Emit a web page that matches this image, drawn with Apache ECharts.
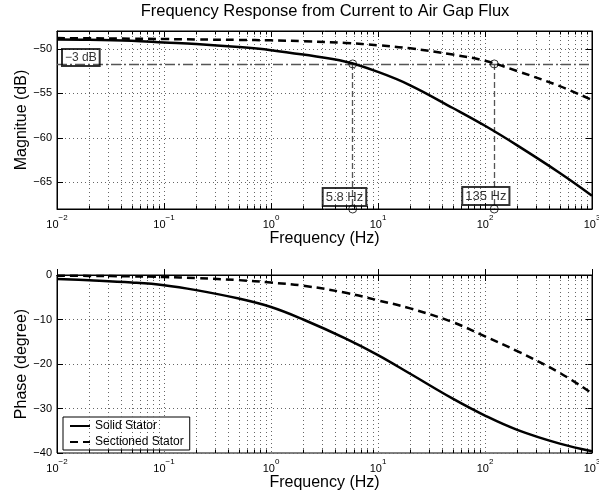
<!DOCTYPE html>
<html><head><meta charset="utf-8">
<script src="https://cdn.jsdelivr.net/npm/echarts@6/dist/echarts.min.js"></script>
<style>html,body{margin:0;padding:0;background:#fff}#c{width:599px;height:496px}</style>
</head><body><div id="c"></div>
<script>
// ---- data ----
const freqs = [0.01, 0.02, 0.05, 0.1, 0.2, 0.5, 1, 2, 5, 10, 20, 50, 100, 200, 500, 1000];
const magSolid = [-48.95, -48.98, -49.1, -49.28, -49.45, -49.8, -50.15, -50.65, -51.45, -52.6, -54.1, -56.65, -58.65, -60.85, -63.95, -66.5];
const magSectioned = [-48.8, -48.82, -48.86, -48.9, -48.95, -49.0, -49.05, -49.15, -49.35, -49.6, -49.95, -50.65, -51.35, -52.5, -54.2, -55.75];
const phaseSolid = [-0.9, -1.2, -1.7, -2.3, -3.4, -5.3, -7.2, -10.0, -14.3, -18.0, -22.2, -27.8, -31.6, -34.8, -37.9, -39.6];
const phaseSectioned = [-0.15, -0.2, -0.3, -0.45, -0.7, -1.15, -1.7, -2.4, -4.0, -5.7, -7.5, -10.6, -13.8, -17.1, -22.0, -26.6];
const seriesNames = ['Solid Stator', 'Sectioned Stator'];
const freqRange = [0.01, 1000];
const magRange = [-68, -48];
const phaseRange = [-40, 0];
const cutoffDb = -51.7;
const cutoffFreqs = [5.8, 122];
const cutoffLabels = ['5.8 Hz', '135 Hz'];
const dbLabel = '\u22123 dB';
const titleText = 'Frequency Response from Current to Air Gap Flux';
const xTitle = 'Frequency (Hz)';
const yTitles = ['Magnitue (dB)', 'Phase (degree)'];

// ---- helpers ----
const FONT = '"Liberation Sans", Arial, Helvetica, sans-serif';
const PLOT_H = 178;
const GRID_STYLE = {color: '#666', type: [1, 3], width: 1};
const minorFreqs = [];
for (let k = -2; k < 3; k++) for (let m = 2; m < 10; m++) minorFreqs.push(+(m * Math.pow(10, k)).toPrecision(3));
const pairs = (xs, ys) => xs.map((x, i) => [x, ys[i]]);
const minus = v => String(v).replace('-', '\u2212');

function helperMarks(yr) {
  const d = 3.5 * (yr[1] - yr[0]) / PLOT_H;
  const data = [];
  minorFreqs.forEach(f => {
    data.push({xAxis: f, lineStyle: GRID_STYLE});
    data.push([{coord: [f, yr[0]], lineStyle: {color: '#000', type: 'solid', width: 1}}, {coord: [f, yr[0] + d]}]);
    data.push([{coord: [f, yr[1]], lineStyle: {color: '#000', type: 'solid', width: 1}}, {coord: [f, yr[1] - d]}]);
  });
  return data;
}

function xAxisCfg(g, pos, showLabels) {
  return {
    type: 'log', logBase: 10, min: freqRange[0], max: freqRange[1], gridIndex: g, position: pos,
    splitNumber: 5,
    axisLine: {show: true, lineStyle: {color: '#000', width: 1}},
    axisTick: {show: true, inside: true, length: 6, lineStyle: {color: '#000'}},
    axisLabel: {
      show: showLabels, margin: 5,
      formatter: v => { const e = Math.round(Math.log10(v)); return '{b|10}{s|' + minus(e) + '}'; },
      rich: {
        b: {fontSize: 11, fontFamily: FONT, color: '#000', lineHeight: 16, verticalAlign: 'bottom'},
        s: {fontSize: 8, fontFamily: FONT, color: '#000', lineHeight: 6, verticalAlign: 'top'}
      }
    },
    splitLine: {show: showLabels, lineStyle: GRID_STYLE},
    name: showLabels ? xTitle : '', nameLocation: 'middle', nameGap: 22,
    nameTextStyle: {fontSize: 16, color: '#000', fontFamily: FONT}
  };
}
function yAxisCfg(g, pos, yr, showLabels, hideEnds, name) {
  return {
    type: 'value', min: yr[0], max: yr[1], gridIndex: g, position: pos, splitNumber: 4,
    axisLine: {show: true, lineStyle: {color: '#000', width: 1}},
    axisTick: {show: true, inside: true, length: 6, lineStyle: {color: '#000'}},
    axisLabel: {show: showLabels, margin: 5, fontSize: 11, fontFamily: FONT, color: '#000',
      formatter: minus, showMinLabel: !hideEnds, showMaxLabel: !hideEnds},
    splitLine: {show: showLabels, lineStyle: GRID_STYLE},
    name: name || '', nameLocation: 'middle', nameGap: 27, nameMoveOverlap: false,
    nameTextStyle: {fontSize: 16, color: '#000', fontFamily: FONT}
  };
}
function curve(name, data, xi, yi, dashed) {
  return {
    name, type: 'line', xAxisIndex: xi, yAxisIndex: yi, data, smooth: 0.4, symbol: 'none',
    showSymbol: false,
    lineStyle: {color: '#000', width: 2.5, type: dashed ? [8, 5] : 'solid'}, itemStyle: {color: '#000'},
    z: 5, silent: true
  };
}

const annotBox = (extra) => Object.assign({
  show: true, color: '#000', fontSize: 13, fontFamily: FONT,
  borderColor: '#000', borderWidth: 1, padding: [3, 3, 2, 3], backgroundColor: 'transparent'
}, extra);

const option = {
  backgroundColor: '#fff',
  animation: false,
  title: {text: titleText, left: 325, top: 3, textAlign: 'center', padding: 0,
    textStyle: {fontSize: 16.5, fontWeight: 'normal', color: '#000', fontFamily: FONT}},
  grid: [
    {left: 57, top: 31, width: 535, height: PLOT_H, show: true, borderColor: '#000', borderWidth: 1, outerBoundsMode: 'none', containLabel: false},
    {left: 57, top: 275, width: 535, height: PLOT_H, show: true, borderColor: '#000', borderWidth: 1, outerBoundsMode: 'none', containLabel: false}
  ],
  legend: {
    data: seriesNames, orient: 'vertical', left: 63, top: 417,
    borderColor: '#000', borderWidth: 1, borderRadius: 0, padding: [3, 6, 2, 6], itemGap: 4,
    itemWidth: 20, itemHeight: 10, backgroundColor: '#fff',
    itemStyle: {opacity: 0},
    textStyle: {fontSize: 12, fontFamily: FONT, color: '#000'}
  },
  xAxis: [xAxisCfg(0, 'bottom', true), xAxisCfg(0, 'top', false), xAxisCfg(1, 'bottom', true), xAxisCfg(1, 'top', false)],
  yAxis: [yAxisCfg(0, 'left', magRange, true, true, yTitles[0]), yAxisCfg(0, 'right', magRange, false, true),
          yAxisCfg(1, 'left', phaseRange, true, false, yTitles[1]), yAxisCfg(1, 'right', phaseRange, false, false)],
  series: [
    {type: 'line', xAxisIndex: 0, yAxisIndex: 0, data: [], silent: true,
      markLine: {silent: true, symbol: 'none', label: {show: false}, data: helperMarks(magRange).concat(
        [[{coord: [freqRange[0], cutoffDb], lineStyle: {color: '#555', type: [10, 3, 2, 3], width: 1.3}}, {coord: [freqRange[1], cutoffDb]}]],
        cutoffFreqs.map(f => [{coord: [f, cutoffDb], lineStyle: {color: '#555', type: [6, 3], width: 1.3}}, {coord: [f, magRange[0]]}])
      )}},
    {type: 'line', xAxisIndex: 2, yAxisIndex: 2, data: [], silent: true,
      markLine: {silent: true, symbol: 'none', label: {show: false}, data: helperMarks(phaseRange)}},
    curve(seriesNames[0], pairs(freqs, magSolid), 0, 0, false),
    curve(seriesNames[1], pairs(freqs, magSectioned), 0, 0, true),
    curve(seriesNames[0], pairs(freqs, phaseSolid), 2, 2, false),
    curve(seriesNames[1], pairs(freqs, phaseSectioned), 2, 2, true),
    {type: 'scatter', xAxisIndex: 0, yAxisIndex: 0, symbol: 'circle', symbolSize: 8, silent: true, z: 6,
      itemStyle: {color: 'transparent', borderColor: '#000', borderWidth: 1},
      data: cutoffFreqs.map(f => [f, cutoffDb]).concat(cutoffFreqs.map(f => [f, magRange[0]]))},
    {type: 'scatter', xAxisIndex: 0, yAxisIndex: 0, symbolSize: 0, silent: true, z: 7,
      data: [
        {value: [freqRange[0], cutoffDb], label: annotBox({formatter: dbLabel, position: [5, -15], fontSize: 12})},
        {value: [cutoffFreqs[0], magRange[0]], label: annotBox({formatter: cutoffLabels[0], position: [-30, -21]})},
        {value: [cutoffFreqs[1], magRange[0]], label: annotBox({formatter: cutoffLabels[1], position: [-32, -22]})}
      ]}
  ]
};
const chart = echarts.init(document.getElementById('c'), null, {renderer: 'canvas'});
chart.setOption(option);
</script></body></html>
